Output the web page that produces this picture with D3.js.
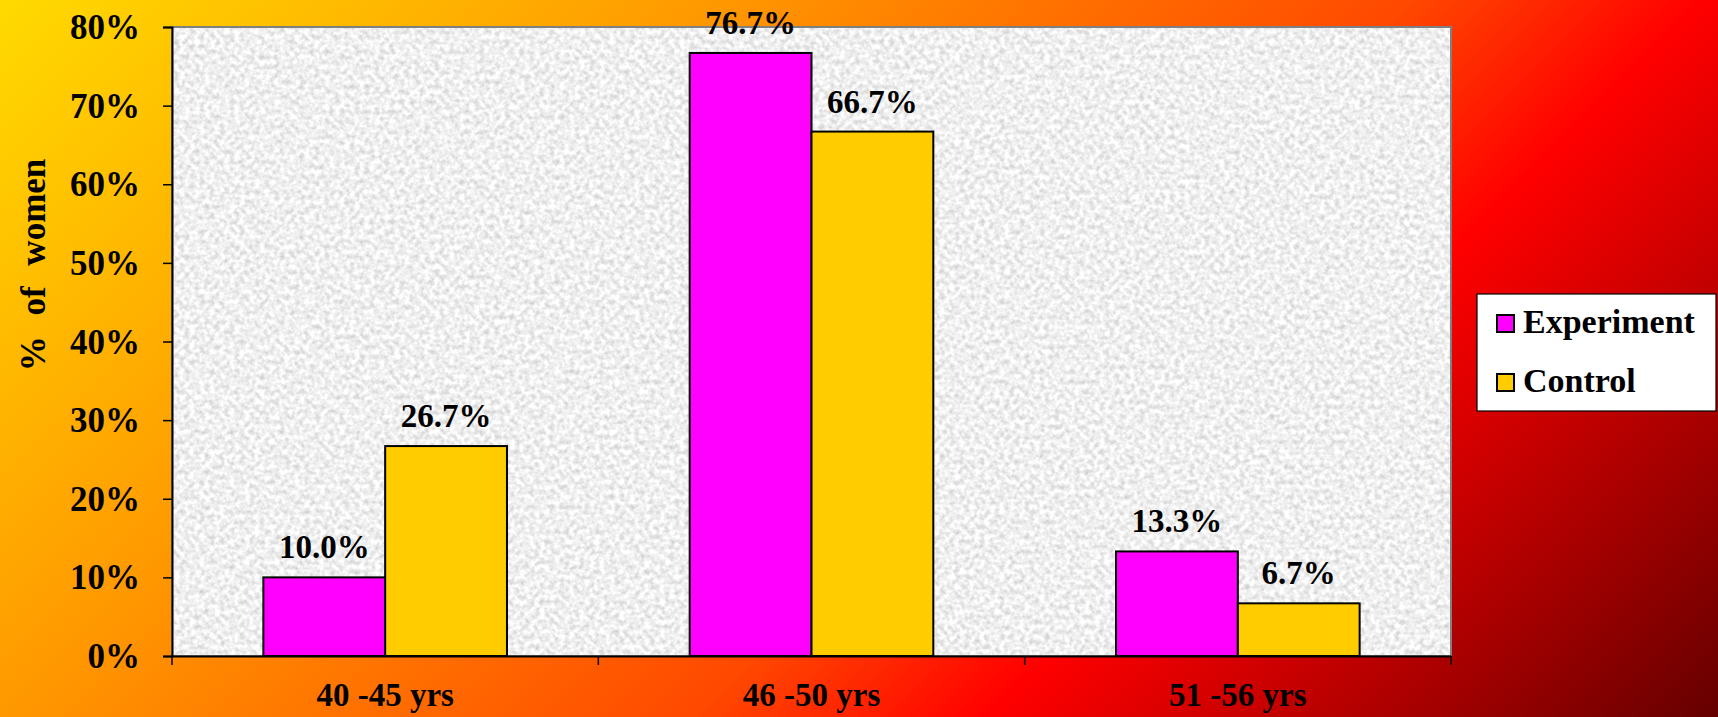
<!DOCTYPE html>
<html>
<head>
<meta charset="utf-8">
<script src="https://cdn.jsdelivr.net/npm/d3@7"></script>
<style>
  html, body { margin: 0; padding: 0; background: #fff; }
  svg { display: block; }
  text { font-family: "Liberation Serif", "Times New Roman", serif; font-weight: bold; fill: #000; }
</style>
</head>
<body>
<svg id="chart" width="1718" height="717"></svg>
<script>
// Age groups and the share of women in each study arm
const categories = ["40 -45 yrs", "46 -50 yrs", "51 -56 yrs"];
const seriesNames = ["Experiment", "Control"];
const experiment = [10.0, 76.7, 13.3];
const control = [26.7, 66.7, 6.7];
const yTicks = [0, 10, 20, 30, 40, 50, 60, 70, 80];
const seriesColors = ["#FF00FF", "#FFCC00"];

const W = 1718, H = 717;
const plot = { left: 172, right: 1451, top: 27, bottom: 656 };
const serif = "'Liberation Serif', 'Times New Roman', serif";

const svg = d3.select("#chart");
const defs = svg.append("defs");

// Diagonal warm background: yellow -> orange -> red -> dark red
const bg = defs.append("linearGradient")
  .attr("id", "bgGrad")
  .attr("gradientUnits", "userSpaceOnUse")
  .attr("x1", 0).attr("y1", 0)
  .attr("x2", (W + H) / 2).attr("y2", (W + H) / 2);
[
  [0.00, "#FFDA00"],
  [0.12, "#FFC000"],
  [0.29, "#FF9A00"],
  [0.37, "#FF8400"],
  [0.58, "#FF4800"],
  [0.70, "#FF0000"],
  [0.82, "#C20000"],
  [1.00, "#650000"]
].forEach(([o, c]) => bg.append("stop").attr("offset", o).attr("stop-color", c));

svg.append("rect").attr("width", W).attr("height", H).attr("fill", "url(#bgGrad)");

// Soft speckled light-grey texture for the plot area
const tex = defs.append("filter")
  .attr("id", "granite")
  .attr("x", 0).attr("y", 0).attr("width", 1).attr("height", 1)
  .attr("color-interpolation-filters", "sRGB");
tex.append("feTurbulence")
  .attr("type", "fractalNoise")
  .attr("baseFrequency", "0.2")
  .attr("numOctaves", 2)
  .attr("seed", 7)
  .attr("result", "noise");
tex.append("feColorMatrix")
  .attr("in", "noise")
  .attr("type", "matrix")
  .attr("values",
    "0.34 0 0 0 0.77 " +
    "0.34 0 0 0 0.77 " +
    "0.34 0 0 0 0.77 " +
    "0 0 0 0 1");

svg.append("rect")
  .attr("x", plot.left).attr("y", plot.top)
  .attr("width", plot.right - plot.left).attr("height", plot.bottom - plot.top)
  .attr("fill", "#EEEEEE")
  .attr("filter", "url(#granite)");

svg.append("rect")
  .attr("x", plot.left).attr("y", plot.top)
  .attr("width", plot.right - plot.left).attr("height", plot.bottom - plot.top)
  .attr("fill", "none")
  .attr("stroke", "#808080")
  .attr("stroke-width", 2);

// Scales
const x0 = d3.scaleBand().domain(categories).range([plot.left, plot.right]).padding(0);
const bw = x0.bandwidth();
const gap = bw * 1.5 / 3.5;
const x1 = d3.scaleBand().domain(seriesNames).range([gap / 2, bw - gap / 2]).padding(0);
const y = d3.scaleLinear().domain([0, 80]).range([plot.bottom, plot.top]);

const rows = categories.map((c, i) => ({
  cat: c,
  values: [
    { name: seriesNames[0], v: experiment[i], color: seriesColors[0] },
    { name: seriesNames[1], v: control[i], color: seriesColors[1] }
  ]
}));

// Bars
const groups = svg.append("g").selectAll("g")
  .data(rows).join("g")
  .attr("transform", d => `translate(${x0(d.cat)},0)`);

groups.selectAll("rect")
  .data(d => d.values).join("rect")
  .attr("x", d => x1(d.name))
  .attr("y", d => y(d.v))
  .attr("width", x1.bandwidth())
  .attr("height", d => y(0) - y(d.v))
  .attr("fill", d => d.color)
  .attr("stroke", "#000")
  .attr("stroke-width", 2);

// Value labels
groups.selectAll("text.val")
  .data(d => d.values).join("text")
  .attr("class", "val")
  .attr("x", d => x1(d.name) + x1.bandwidth() / 2)
  .attr("y", d => y(d.v) - 19)
  .attr("text-anchor", "middle")
  .style("font-size", "33px")
  .text(d => d.v.toFixed(1) + "%");

// Y axis
const yAxis = svg.append("g")
  .attr("transform", `translate(${plot.left},0)`)
  .call(d3.axisLeft(y).tickValues(yTicks).tickFormat(d => d + "%").tickSize(9).tickPadding(23));
yAxis.select(".domain").attr("stroke", "#000").attr("stroke-width", 2);
yAxis.selectAll(".tick line").attr("stroke", "#000").attr("stroke-width", 1.5);
yAxis.selectAll(".tick text")
  .style("font-size", "35px")
  .style("font-family", serif)
  .style("font-weight", "bold")
  .attr("fill", "#000")
  .attr("dy", "0.33em");

// X axis: baseline, boundary ticks and centred category labels
const xAxis = svg.append("g")
  .attr("transform", `translate(0,${plot.bottom})`)
  .call(d3.axisBottom(x0).tickSize(0).tickPadding(27));
xAxis.select(".domain").attr("stroke", "#000").attr("stroke-width", 2);
xAxis.selectAll(".tick text")
  .style("font-size", "33px")
  .style("font-family", serif)
  .style("font-weight", "bold")
  .attr("fill", "#000");

const bounds = categories.map(c => x0(c)).concat([x0(categories[categories.length - 1]) + bw]);
xAxis.selectAll("line.bound")
  .data(bounds).join("line")
  .attr("class", "bound")
  .attr("x1", d => d).attr("x2", d => d)
  .attr("y1", 0).attr("y2", 9)
  .attr("stroke", "#000")
  .attr("stroke-width", 1.5);

// Y axis title
svg.append("text")
  .attr("transform", "translate(45,265) rotate(-90)")
  .attr("text-anchor", "middle")
  .style("font-size", "35px")
  .style("word-spacing", "12px")
  .text("% of women");

// Legend
const legend = svg.append("g").attr("transform", "translate(1477,294)");
legend.append("rect")
  .attr("width", 239).attr("height", 117)
  .attr("fill", "#fff")
  .attr("stroke", "#000")
  .attr("stroke-width", 1.2);
const items = legend.selectAll("g.item")
  .data(seriesNames).join("g")
  .attr("class", "item")
  .attr("transform", (d, i) => `translate(20,${21 + i * 59})`);
items.append("rect")
  .attr("width", 17).attr("height", 17)
  .attr("fill", (d, i) => seriesColors[i])
  .attr("stroke", "#000")
  .attr("stroke-width", 2);
items.append("text")
  .attr("x", 26).attr("y", 18)
  .style("font-size", "34px")
  .text(d => d);
</script>
</body>
</html>
